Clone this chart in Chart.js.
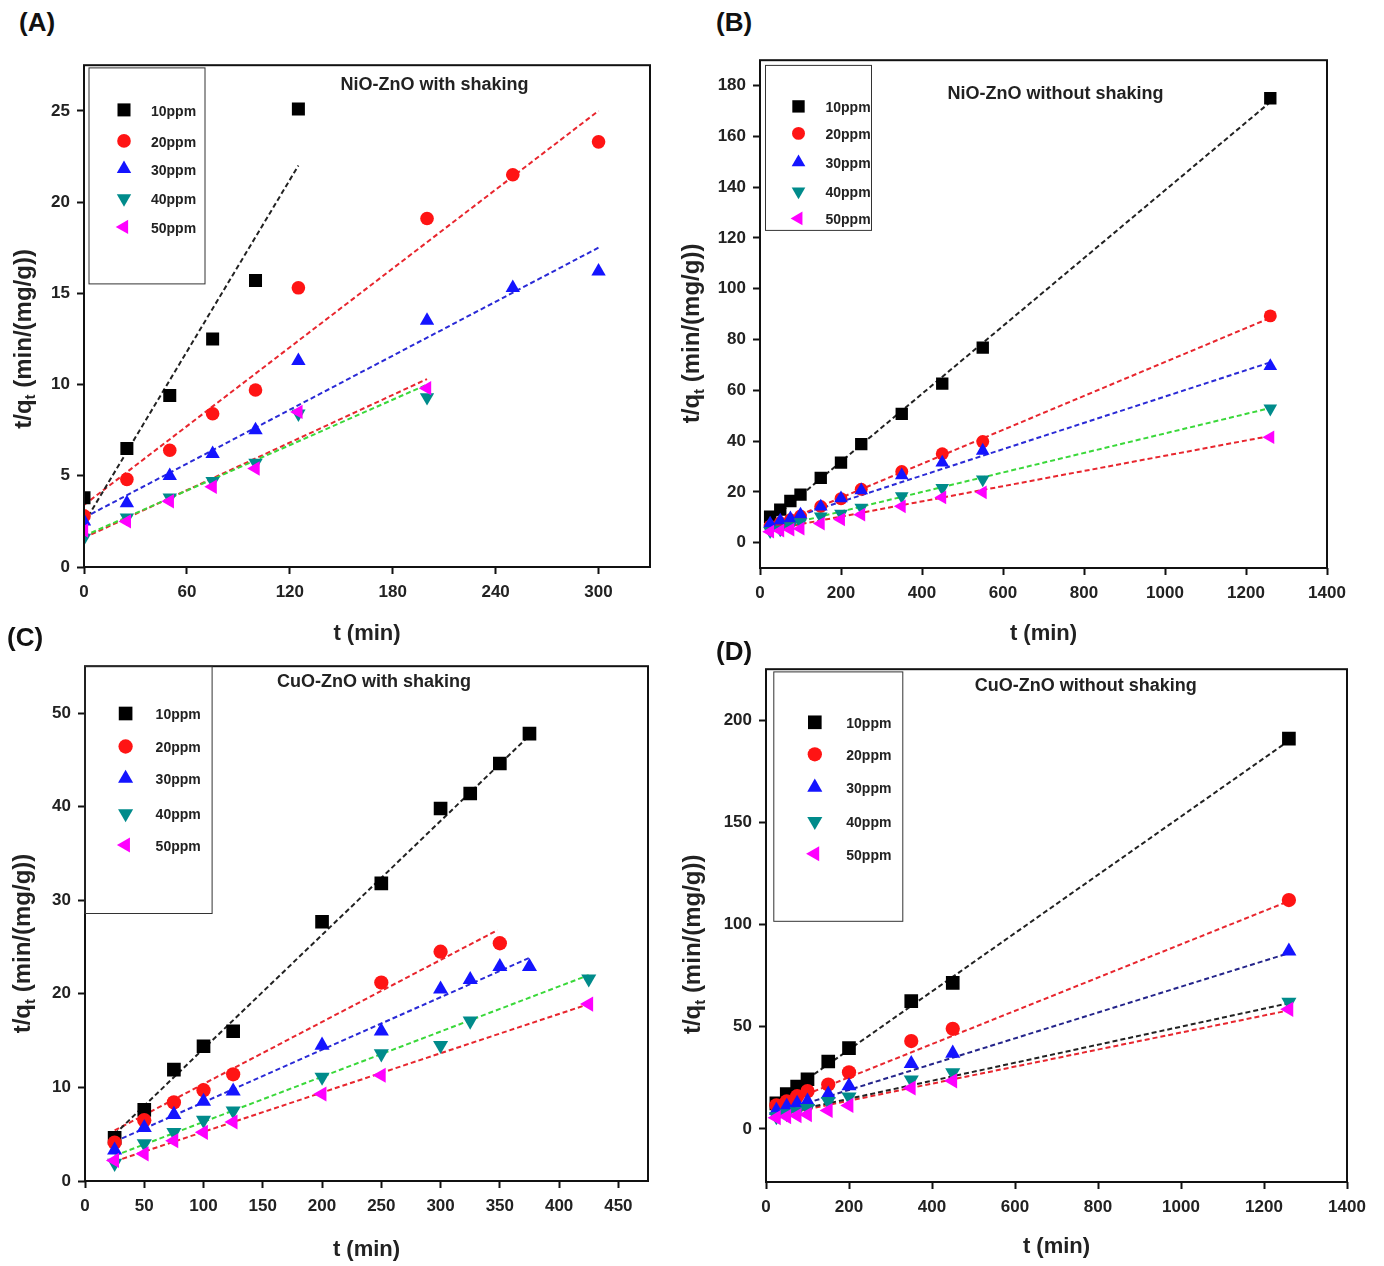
<!DOCTYPE html>
<html>
<head>
<meta charset="utf-8">
<script src="https://cdn.jsdelivr.net/npm/chart.js@4.4.1/dist/chart.umd.min.js"></script>
<style>
html, body { margin: 0; padding: 0; background: #fff; width: 1384px; height: 1266px; overflow: hidden; position: relative; font-family: "Liberation Sans", Arial, sans-serif; }
canvas { position: absolute; }
.lbl { position: absolute; font-weight: bold; font-size: 26px; color: #111; line-height: 1; z-index: 2; }
</style>
</head>
<body>
<div class="lbl" style="left:19px;top:9px">(A)</div>
<div class="lbl" style="left:716px;top:9px">(B)</div>
<div class="lbl" style="left:7px;top:624px">(C)</div>
<div class="lbl" style="left:716px;top:638px">(D)</div>
<canvas id="chartA"></canvas>
<canvas id="chartB"></canvas>
<canvas id="chartC"></canvas>
<canvas id="chartD"></canvas>
<script>
// series names
var ppmLabels = ['10ppm', '20ppm', '30ppm', '40ppm', '50ppm'];

// ---- (A) NiO-ZnO with shaking ----
var xTicksA = [0, 60, 120, 180, 240, 300];
var yTicksA = [0, 5, 10, 15, 20, 25];
var tA10 = [0, 25, 50, 75, 100, 125];
var qA10 = [3.8, 6.5, 9.4, 12.5, 15.7, 25.1];
var tA20 = [0, 25, 50, 75, 100, 125, 200, 250, 300];
var qA20 = [2.8, 4.8, 6.4, 8.4, 9.7, 15.3, 19.1, 21.5, 23.3];
var tA30 = [0, 25, 50, 75, 100, 125, 200, 250, 300];
var qA30 = [2.5, 3.5, 5.0, 6.2, 7.5, 11.3, 13.5, 15.3, 16.2];
var tA40 = [0, 25, 50, 75, 100, 125, 200];
var qA40 = [1.6, 2.7, 3.8, 4.7, 5.7, 8.4, 9.3];
var tA50 = [0, 25, 50, 75, 100, 125, 200];
var qA50 = [2.0, 2.5, 3.6, 4.4, 5.4, 8.5, 9.8];
// fitted lines, start and end points
var fitA10 = [[0, 2.4], [125, 22.0]];
var fitA20 = [[0, 3.4], [300, 25.0]];
var fitA30 = [[0, 2.7], [300, 17.5]];
var fitA40 = [[0, 1.7], [200, 10.0]];
var fitA50 = [[0, 1.6], [200, 10.3]];

// ---- (B) NiO-ZnO without shaking ----
var xTicksB = [0, 200, 400, 600, 800, 1000, 1200, 1400];
var yTicksB = [0, 20, 40, 60, 80, 100, 120, 140, 160, 180];
var tB = [25, 50, 75, 100, 150, 200, 250, 350, 450, 550, 1260];
var qB10 = [10.2, 13, 16.4, 18.9, 25.5, 31.5, 38.8, 50.7, 62.6, 76.8, 175];
var qB20 = [6.5, 7.8, 9, 10.5, 14.2, 17.3, 21, 28, 35, 39.8, 89.3];
var qB30 = [7.5, 8.7, 9.5, 11, 14.2, 17.4, 20.6, 26.5, 31.5, 36.2, 69.5];
var qB40 = [4.5, 5.2, 6.5, 8, 10.3, 11.4, 13.8, 18.3, 21.5, 24.9, 52.8];
var qB50 = [4.3, 4.7, 5.1, 5.5, 7.5, 9.1, 11, 14.3, 17.8, 19.8, 41.5];
var fitB10 = [[25, 8.5], [1260, 173.5]];
var fitB20 = [[25, 6], [1260, 88.5]];
var fitB30 = [[25, 7], [1260, 71]];
var fitB40 = [[25, 5.5], [1260, 53]];
var fitB50 = [[25, 5], [1260, 42]];

// ---- (C) CuO-ZnO with shaking ----
var xTicksC = [0, 50, 100, 150, 200, 250, 300, 350, 400, 450];
var yTicksC = [0, 10, 20, 30, 40, 50];
var tC10 = [25, 50, 75, 100, 125, 200, 250, 300, 325, 350, 375];
var qC10 = [4.6, 7.6, 11.9, 14.4, 16.0, 27.7, 31.8, 39.8, 41.4, 44.6, 47.8];
var tC20 = [25, 50, 75, 100, 125, 250, 300, 350];
var qC20 = [4.1, 6.5, 8.4, 9.7, 11.4, 21.2, 24.5, 25.4];
var tC30 = [25, 50, 75, 100, 125, 200, 250, 300, 325, 350, 375];
var qC30 = [3.3, 5.7, 7.1, 8.5, 9.6, 14.5, 16.0, 20.5, 21.5, 22.9, 22.9];
var tC40 = [25, 50, 75, 100, 125, 200, 250, 300, 325, 425];
var qC40 = [1.9, 4.0, 5.2, 6.5, 7.5, 11.1, 13.6, 14.5, 17.1, 21.6];
var tC50 = [25, 50, 75, 100, 125, 200, 250, 425];
var qC50 = [2.2, 2.9, 4.3, 5.2, 6.3, 9.3, 11.3, 18.9];
var fitC10 = [[25, 5.0], [375, 47.6]];
var fitC20 = [[25, 5.4], [348, 26.8]];
var fitC30 = [[25, 4.2], [376, 23.9]];
var fitC40 = [[25, 2.7], [425, 22.0]];
var fitC50 = [[25, 2.1], [425, 18.9]];

// ---- (D) CuO-ZnO without shaking ----
var xTicksD = [0, 200, 400, 600, 800, 1000, 1200, 1400];
var yTicksD = [0, 50, 100, 150, 200];
var tD = [25, 50, 75, 100, 150, 200, 350, 450, 1260];
var qD10 = [12.5, 17, 20.7, 24.3, 33, 39.5, 62.5, 71.5, 191];
var qD20 = [11.5, 13.5, 16, 18.5, 21.7, 27.7, 43, 49, 112];
var qD30 = [9, 11, 12.5, 13.5, 17, 21, 31.9, 37, 87];
var qD40 = [6, 7.5, 8.5, 10, 13.5, 15.7, 24, 27.5, 62];
var qD50 = [5.5, 6, 6.5, 7, 9, 11.5, 20, 23.5, 58.5];
var fitD10 = [[100, 24.5], [1260, 190]];
var fitD20 = [[25, 11], [1260, 111.5]];
var fitD30 = [[25, 8], [1260, 86]];
var fitD40 = [[25, 7], [1260, 61.5]];
var fitD50 = [[25, 6.5], [1260, 58]];

// marker look for each concentration
var markers = [
    { style: 'rect', color: '#000000', rot: 0, r: 9.2 },
    { style: 'circle', color: '#ff1414', rot: 0, r: 6.8 },
    { style: 'triangle', color: '#1414ff', rot: 0, r: 8.3 },
    { style: 'triangle', color: '#008b8b', rot: 180, r: 8.3 },
    { style: 'triangle', color: '#ff00ff', rot: -90, r: 8.3 }
];
var FONT = '"Liberation Sans", Arial, sans-serif';

function drawMarker(ctx, m, x, y, k) {
    var r = m.r * k;
    ctx.save();
    ctx.translate(x, y);
    ctx.rotate(m.rot * Math.PI / 180);
    ctx.fillStyle = m.color;
    ctx.beginPath();
    if (m.style === 'rect') {
        var s = r * Math.SQRT1_2;
        ctx.rect(-s, -s, 2 * s, 2 * s);
    } else if (m.style === 'circle') {
        ctx.arc(0, 0, r, 0, Math.PI * 2);
    } else {
        for (var i = 0; i < 3; i++) {
            var a = i * 2 * Math.PI / 3;
            var px = Math.sin(a) * r, py = -Math.cos(a) * r;
            if (i === 0) ctx.moveTo(px, py); else ctx.lineTo(px, py);
        }
        ctx.closePath();
    }
    ctx.fill();
    ctx.restore();
}

// frame, in-plot title, boxed legend and the y title (with subscript)
var decor = {
    id: 'decor',
    afterDraw: function (chart) {
        var o = chart.options.plugins.decor;
        var ctx = chart.ctx, a = chart.chartArea;
        var ox = parseFloat(chart.canvas.style.left) || 0;
        var oy = parseFloat(chart.canvas.style.top) || 0;
        ctx.save();
        ctx.strokeStyle = '#111';
        ctx.lineWidth = 2;
        ctx.strokeRect(a.left, a.top, a.right - a.left, a.bottom - a.top);

        ctx.fillStyle = '#222';
        ctx.textAlign = 'center';
        ctx.textBaseline = 'middle';
        ctx.font = 'bold 18px ' + FONT;
        ctx.fillText(o.title, o.titlePos[0] - ox, o.titlePos[1] - oy);

        var lg = o.legend;
        ctx.lineWidth = 1;
        ctx.strokeStyle = '#333';
        ctx.strokeRect(lg.box[0] - ox, lg.box[1] - oy, lg.box[2] - lg.box[0], lg.box[3] - lg.box[1]);
        ctx.textAlign = 'left';
        ctx.font = 'bold 14px ' + FONT;
        for (var i = 0; i < ppmLabels.length; i++) {
            var ry = lg.rows[i] - oy;
            drawMarker(ctx, markers[i], lg.mx - ox, ry, o.mk);
            ctx.fillStyle = '#222';
            ctx.fillText(ppmLabels[i], lg.tx - ox, ry + 2);
        }

        // y axis title: t/q_t (min/(mg/g))
        ctx.translate(o.yTitlePos[0] - ox, o.yTitlePos[1] - oy);
        ctx.rotate(-Math.PI / 2);
        ctx.fillStyle = '#222';
        var big = 'bold 24px ' + FONT, small = 'bold 15px ' + FONT;
        var p1 = 't/q', p2 = 't', p3 = ' (min/(mg/g))';
        ctx.font = big;
        var w1 = ctx.measureText(p1).width, w3 = ctx.measureText(p3).width;
        ctx.font = small;
        var w2 = ctx.measureText(p2).width;
        var x0 = -(w1 + w2 + w3) / 2;
        ctx.textAlign = 'left';
        ctx.font = big;
        ctx.fillText(p1, x0, 0);
        ctx.font = small;
        ctx.fillText(p2, x0 + w1, 7);
        ctx.font = big;
        ctx.fillText(p3, x0 + w1 + w2, 0);
        ctx.restore();
    }
};

function zip(ts, qs) {
    return ts.map(function (t, i) { return { x: t, y: qs[i] }; });
}
function pts(seg) {
    return seg.map(function (p) { return { x: p[0], y: p[1] }; });
}

var LH = 22 * 1.2;

function buildChart(p, cw, ch, yW, xH) {
    var canvas = document.getElementById(p.id);
    canvas.width = cw;
    canvas.height = ch;

    var datasets = [];
    p.series.forEach(function (s, i) {
        var m = markers[i];
        datasets.push({
            label: ppmLabels[i],
            data: zip(s[0], s[1]),
            pointStyle: m.style,
            pointRotation: m.rot,
            radius: m.r * p.mk,
            backgroundColor: m.color,
            borderColor: m.color,
            borderWidth: 0,
            order: 5 - i
        });
    });
    p.fits.forEach(function (f, i) {
        datasets.push({
            label: ppmLabels[i] + ' fit',
            data: pts(f),
            showLine: true,
            pointRadius: 0,
            borderColor: p.fitColors[i],
            borderWidth: 2,
            borderDash: [5, 3],
            order: 10
        });
    });

    var tickFont = { size: 17, weight: 'bold', family: FONT };
    var plain = function (v) { return String(v); };
    return new Chart(canvas, {
        type: 'scatter',
        data: { datasets: datasets },
        options: {
            responsive: false,
            animation: false,
            layout: { padding: { left: 0, top: 14, right: 30, bottom: 0 } },
            plugins: {
                legend: { display: false },
                tooltip: { enabled: false },
                decor: { title: p.title, titlePos: p.titlePos, yTitlePos: p.yTitlePos, legend: p.legend, mk: p.mk }
            },
            scales: {
                x: {
                    type: 'linear',
                    min: p.x[0], max: p.x[1],
                    afterBuildTicks: function (s) { s.ticks = p.xTicks.map(function (v) { return { value: v }; }); },
                    afterFit: function (s) { s.height = xH; },
                    ticks: { font: tickFont, color: '#222', padding: 8, maxRotation: 0, callback: plain },
                    grid: { drawOnChartArea: false, drawTicks: true, tickLength: 7, tickWidth: 2, tickColor: '#111' },
                    border: { display: false },
                    title: {
                        display: true, text: 't (min)', color: '#222',
                        font: { size: 22, weight: 'bold', family: FONT },
                        padding: { top: 0, bottom: 4 }
                    }
                },
                y: {
                    type: 'linear',
                    min: p.y[0], max: p.y[1],
                    afterBuildTicks: function (s) { s.ticks = p.yTicks.map(function (v) { return { value: v }; }); },
                    afterFit: function (s) { s.width = yW; },
                    ticks: { font: tickFont, color: '#222', padding: 7, callback: plain },
                    grid: { drawOnChartArea: false, drawTicks: true, tickLength: 7, tickWidth: 2, tickColor: '#111' },
                    border: { display: false }
                }
            }
        },
        plugins: [decor]
    });
}

function makePanel(p) {
    var L = p.plot[0], T = p.plot[1], R = p.plot[2], B = p.plot[3];
    var yW = 90, xH = 86;
    var cw = Math.round(R - L + 120), ch = Math.round(B - T + 100);
    // first pass: measure how the library laid out the plot area, then fix the canvas size
    var chart = buildChart(p, cw, ch, yW, xH);
    var a = chart.chartArea;
    cw += Math.round((R - L) - (a.right - a.left));
    ch += Math.round((B - T) - (a.bottom - a.top));
    chart.destroy();
    chart = buildChart(p, cw, ch, yW, xH);
    a = chart.chartArea;
    var cl = L - a.left, ct = T - a.top;
    chart.canvas.style.left = cl + 'px';
    chart.canvas.style.top = ct + 'px';
    chart.options.scales.x.title.padding = { top: 0, bottom: ct + ch - p.xTitleY - LH / 2 };
    chart.update();
    return chart;
}

var red = '#e8262e', black = '#222222', blue = '#2a2ad6', green = '#3ad83a', navy = '#24248a';

makePanel({
    id: 'chartA', plot: [84, 65.3, 650, 567.4], x: [0, 330], y: [0, 27.5],
    xTicks: xTicksA, yTicks: yTicksA,
    series: [[tA10, qA10], [tA20, qA20], [tA30, qA30], [tA40, qA40], [tA50, qA50]],
    fits: [fitA10, fitA20, fitA30, fitA40, fitA50],
    fitColors: [black, red, blue, green, red],
    title: 'NiO-ZnO with shaking', titlePos: [434.5, 85], yTitlePos: [24, 339], xTitleY: 633.6,
    legend: { box: [89, 68, 205, 284], mx: 124, tx: 151, rows: [110, 141, 169, 198.5, 227] }, mk: 1
});
makePanel({
    id: 'chartB', plot: [759.5, 59.8, 1326, 567.2], x: [0, 1400], y: [-10, 190],
    xTicks: xTicksB, yTicks: yTicksB,
    series: [[tB, qB10], [tB, qB20], [tB, qB30], [tB, qB40], [tB, qB50]],
    fits: [fitB10, fitB20, fitB30, fitB40, fitB50],
    fitColors: [black, red, blue, green, red],
    title: 'NiO-ZnO without shaking', titlePos: [1055, 94], yTitlePos: [692, 333], xTitleY: 633.6,
    legend: { box: [765, 65, 871, 230], mx: 798, tx: 825, rows: [106, 133, 162, 191, 218] }, mk: 0.95
});
makePanel({
    id: 'chartC', plot: [85.4, 665.7, 648, 1180.4], x: [0, 475], y: [0, 55],
    xTicks: xTicksC, yTicks: yTicksC,
    series: [[tC10, qC10], [tC20, qC20], [tC30, qC30], [tC40, qC40], [tC50, qC50]],
    fits: [fitC10, fitC20, fitC30, fitC40, fitC50],
    fitColors: [black, red, blue, green, red],
    title: 'CuO-ZnO with shaking', titlePos: [374.5, 681.5], yTitlePos: [24, 943], xTitleY: 1249,
    legend: { box: [85.4, 665.7, 212.5, 913], mx: 126, tx: 156, rows: [713, 746, 778, 813, 844.5] }, mk: 1.05
});
makePanel({
    id: 'chartD', plot: [766.2, 668.9, 1347.4, 1181.7], x: [0, 1400], y: [-26, 225],
    xTicks: xTicksD, yTicks: yTicksD,
    series: [[tD, qD10], [tD, qD20], [tD, qD30], [tD, qD40], [tD, qD50]],
    fits: [fitD10, fitD20, fitD30, fitD40, fitD50],
    fitColors: [black, red, navy, black, red],
    title: 'CuO-ZnO without shaking', titlePos: [1086, 686], yTitlePos: [694, 944], xTitleY: 1247,
    legend: { box: [774, 671.6, 903, 921], mx: 815, tx: 846.5, rows: [722, 754, 787, 821, 853.5] }, mk: 1.05
});
</script>
</body>
</html>
